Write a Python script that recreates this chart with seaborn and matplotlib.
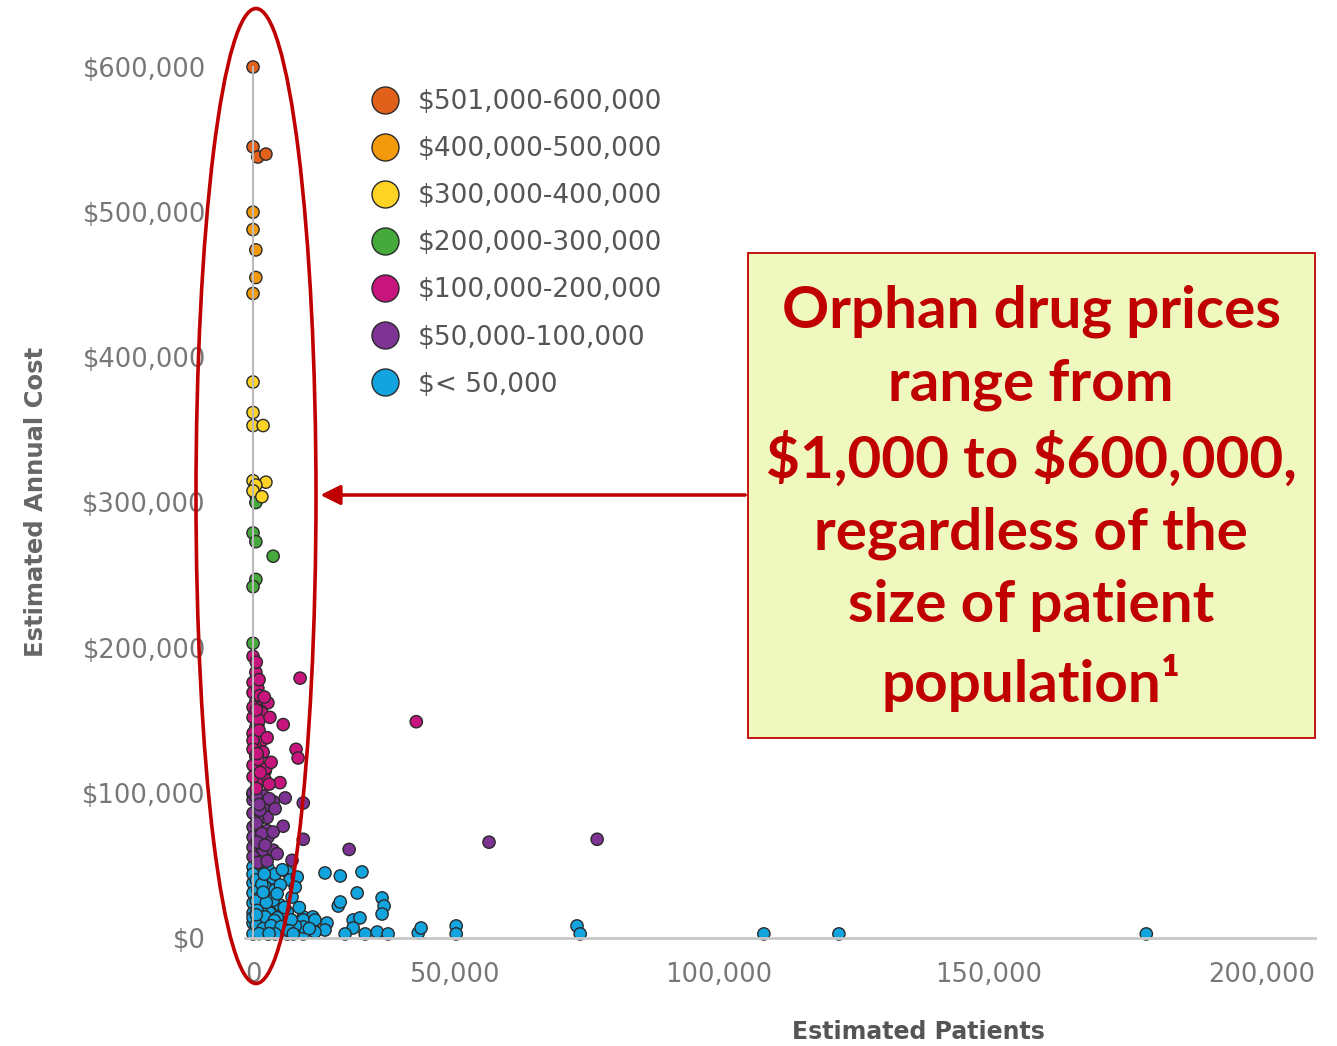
import numpy as np
import pandas as pd
import seaborn as sns
import matplotlib.pyplot as plt
from matplotlib.patches import Ellipse, Rectangle


categories = ['$501,000-600,000', '$400,000-500,000', '$300,000-400,000',
              '$200,000-300,000', '$100,000-200,000', '$50,000-100,000', '$< 50,000']
colors = ['#E2611A', '#F39A0C', '#FED324', '#45AA3B', '#C8157E', '#7D3393', '#12A4DF']

# estimated patients / estimated annual cost, one pair of lists per price band
x_600k = [0, 0, 1200, 3200]
y_600k = [600000, 545000, 538000, 540000]

x_500k = [0, 0, 700, 700, 0]
y_500k = [500000, 488000, 474000, 455000, 444000]

x_400k = [0, 0, 0, 2500, 0, 3200, 700, 0, 2200]
y_400k = [383000, 362000, 353000, 353000, 315000, 314000, 312000, 308000, 304000]

x_300k = [700, 700, 0, 700, 5000, 700, 0, 0]
y_300k = [305000, 300000, 279000, 273000, 263000, 247000, 242000, 203000]

x_200k = [0, 700, 11700, 0, 0, 3700, 700, 2000, 0, 7500,
          700, 0, 2200, 500, 2500, 10700, 11200, 700, 0, 3000,
          500, 3000, 6700, 1000, 2200, 1200, 3200, 40600, 1200, 0,
          1500, 0, 1200, 0, 1700, 0,
          800, 1500, 2800, 800, 4200, 1500, 3500, 1000, 4500, 1800, 4000, 800]
y_200k = [194000, 183000, 179000, 176000, 169000, 162000, 163000, 156000, 152000, 147000,
          145000, 141000, 136000, 132000, 128000, 130000, 124000, 125000, 119000, 115000,
          112000, 109000, 107000, 107000, 155000, 147000, 117000, 149000, 172000, 159000,
          150000, 136000, 123000, 111000, 167000, 130000,
          190000, 178000, 166000, 157000, 152000, 143000, 138000, 127000, 121000, 114000, 106000, 103000]

x_100k = [0, 2500, 0, 5000, 8000, 12500, 2500, 0, 3500, 7500,
          0, 3500, 0, 3700, 12500, 0, 2500, 5000, 9700, 0,
          23900, 56600, 77000, 1200, 1200, 0, 1700,
          800, 4000, 1500, 5500, 800, 2200, 5000, 1000, 3000, 6000, 1200, 3500]
y_100k = [99000, 98000, 95000, 94000, 96500, 93000, 90000, 86000, 83000, 77000,
          76500, 74000, 69500, 69500, 68000, 62500, 60500, 60500, 53500, 56000,
          61000, 66000, 68000, 81000, 65500, 100000, 88000,
          97000, 96000, 92000, 89000, 79000, 72000, 73000, 66000, 64000, 58000, 52000, 53000]

x_50k = [0, 3700, 8500, 1700, 5000, 0, 3000, 9200, 0, 4200,
         9700, 0, 2500, 6700, 0, 4200, 8500, 12500, 14900, 0,
         3500, 7500, 12500, 14900, 0, 3700, 8500, 12500,
         17900, 21700, 27100, 25900, 21200, 21700, 32100, 32600, 32100, 12500,
         15400, 18400, 12500, 17900, 15400, 24900, 26600, 24900, 27900, 22900,
         30900, 33600, 41100,
         41800, 50400, 50400, 73200, 73800, 108300, 122200, 178800,
         1200, 5500, 1200, 5500, 1200, 6200, 10500, 1700, 0, 2000,
         0, 5000, 1200, 6000,
         800, 2200, 6800, 800, 3300, 7800, 1000, 3000, 5300, 9500,
         800, 2500, 4500, 7000, 9000, 1500, 5500, 10000, 2800, 7300,
         11000, 10500, 6000, 2500, 800, 11500, 4000, 14000]
y_50k = [48900, 48200, 45500, 42000, 41300, 37900, 35100, 40000, 31000, 29600,
         28200, 24100, 22700, 22700, 17200, 17200, 17900, 14500, 14500, 10300,
         10300, 10300, 8900, 10300, 2800, 2800, 2800, 2800,
         44800, 42700, 45500, 31000, 22000, 24800, 27600, 22000, 16500, 12400,
         12400, 10300, 7600, 5500, 4100, 12400, 13800, 6900, 2800, 2800,
         4100, 2800, 3400,
         6900, 8300, 2800, 8300, 2800, 2800, 2800, 2800,
         46000, 44000, 33000, 33100, 6900, 5500, 8300, 13800, 44000, 20000,
         14000, 26000, 27000, 14000,
         40000, 37000, 36500, 25500, 24500, 21000, 19000, 14500, 12000, 12500,
         9000, 6500, 8500, 7800, 5000, 3000, 2800, 2800, 44000, 47000,
         42000, 35000, 30500, 31500, 16000, 21000, 3000, 6500]

xs = [x_600k, x_500k, x_400k, x_300k, x_200k, x_100k, x_50k]
ys = [y_600k, y_500k, y_400k, y_300k, y_200k, y_100k, y_50k]

x_ticks = [0, 50000, 100000, 150000, 200000]
y_ticks = [0, 100000, 200000, 300000, 400000, 500000, 600000]

frames = [pd.DataFrame({'patients': x, 'cost': y, 'band': c}) for x, y, c in zip(xs, ys, categories)]
df = pd.concat(frames[::-1], ignore_index=True)

sns.set_style('white')
plt.rcParams['font.family'] = ['DejaVu Sans']

fig = plt.figure(figsize=(13.37, 10.46), dpi=100)
W, H = 1337, 1046
ax = fig.add_axes([245 / W, 1 - 948 / H, 1070 / W, 908 / H])

# the source axis is squeezed between 0 and 50,000, so use a piecewise scale
knots_d = [-50000, 0, 50000, 100000, 150000, 200000, 250000]
knots_p = [-201, 0, 201, 466, 736, 1009, 1282]
ax.set_xscale('function', functions=(lambda v: np.interp(v, knots_d, knots_p),
                                     lambda p: np.interp(p, knots_p, knots_d)))

sns.scatterplot(data=df, x='patients', y='cost', hue='band', hue_order=categories,
                palette=colors, s=78, edgecolor='#2a2a2a', linewidth=1.0, ax=ax)

ax.set_xlim(-2000, 209700)
ax.set_ylim(-6900, 618600)
ax.set_xticks(x_ticks)
ax.set_xticklabels([f'{v:,}' for v in x_ticks])
ax.set_yticks(y_ticks)
ax.set_yticklabels([f'${v:,}' for v in y_ticks])
ax.tick_params(axis='both', length=0, labelsize=18.5, labelcolor='#777777')
ax.tick_params(axis='y', pad=34)
ax.tick_params(axis='x', pad=17)

for s in ['top', 'right']:
    ax.spines[s].set_visible(False)
ax.spines['left'].set_position(('data', 0))
ax.spines['left'].set_bounds(0, 600000)
ax.spines['left'].set_color('#bbbbbb')
ax.spines['left'].set_linewidth(1.5)
ax.spines['bottom'].set_position(('data', 0))
ax.spines['bottom'].set_color('#c8c8c8')
ax.spines['bottom'].set_linewidth(2)

ax.set_xlabel('Estimated Patients', fontsize=17, fontweight='bold', color='#555555')
ax.set_ylabel('Estimated Annual Cost', fontsize=17.5, fontweight='bold', color='#666666')
ax.xaxis.set_label_coords((918 - 245) / 1070, (948 - 1020) / 908)
ax.yaxis.set_label_coords((48 - 245) / 1070, (948 - 502) / 908)

ax.legend(loc='upper left', bbox_to_anchor=((372 - 245) / 1070, (948 - 89) / 908),
          frameon=False, fontsize=19, markerscale=2.2, handlelength=1.0,
          handletextpad=0.73, labelspacing=0.8, borderpad=0, borderaxespad=0,
          labelcolor='#555555')

# callout: ellipse, arrow and text box (figure pixel coordinates)
red = '#C00000'
ell = Ellipse((256 / W, 1 - 496 / H), 120 / W, 975 / H, transform=fig.transFigure,
              fill=False, edgecolor=red, linewidth=2.6)
fig.patches.append(ell)

box = Rectangle((748 / W, 1 - 738 / H), 567 / W, 485 / H, transform=fig.transFigure,
                facecolor='#EFF9BF', edgecolor=red, linewidth=1.3)
fig.patches.append(box)

fig.add_artist(plt.annotate('', xy=(318 / W, 1 - 495 / H), xytext=(748 / W, 1 - 495 / H),
                            xycoords='figure fraction', textcoords='figure fraction',
                            arrowprops=dict(arrowstyle='-|>', color=red, lw=2.2,
                                            mutation_scale=30)))

fig.text(1031 / W, 1 - 498 / H,
         'Orphan drug prices\nrange from\n\\$1,000 to \\$600,000,\nregardless of the\nsize of patient\npopulation\u00b9',
         ha='center', va='center', fontsize=42, fontweight='bold', color=red,
         family=['Lato', 'DejaVu Sans'], linespacing=1.445)

fig.savefig('out.png', dpi=100)
